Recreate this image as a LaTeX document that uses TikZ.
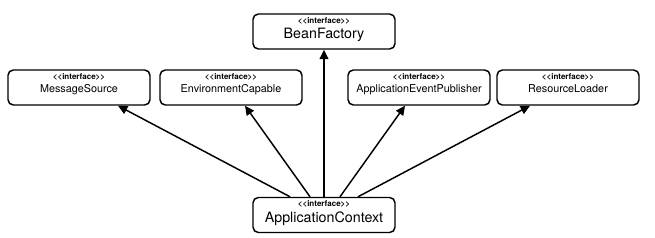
\documentclass[tikz,border=0pt]{standalone}
\usepackage{fontspec}
\setmainfont{TeX Gyre Heros}
\usetikzlibrary{arrows.meta,calc}

\newcommand{\iface}[1]{{\fontsize{6}{7}\selectfont\bfseries {<}{<}interface{>}{>}}\\#1}

\begin{document}
\begin{tikzpicture}[
    x=0.75pt, y=-0.75pt,
    iface/.style={draw, line width=1.1pt, fill=white, rounded corners=4pt, minimum width=106.5pt, minimum height=26.25pt, inner sep=0pt, align=center, font=\fontsize{8.1}{9.5}\selectfont, text depth=7pt},
    bigiface/.style={iface, font=\fontsize{10.7}{11.5}\selectfont, text depth=5pt},
    arrow/.style={-{Triangle[length=7pt,width=6.5pt]}, line width=1.1pt},
]
\useasboundingbox (0,0) rectangle (655,238);
\node[bigiface] (bean) at (324,31.5) {\iface{BeanFactory}};
\node[iface] (msg) at (79,87.5) {\iface{MessageSource}};
\node[iface] (env) at (231,87.5) {\iface{EnvironmentCapable}};
\node[iface] (pub) at (419,87.5) {\iface{ApplicationEventPublisher}};
\node[iface] (res) at (568,87.5) {\iface{ResourceLoader}};
\node[bigiface] (ctx) at (324,215) {\iface{ApplicationContext}};

\draw[arrow] ($(ctx.north)+(-34,0)$) -- ($(msg.south)+(39,0)$);
\draw[arrow] ($(ctx.north)+(-14,0)$) -- ($(env.south)+(14,0)$);
\draw[arrow] (ctx.north) -- (bean.south);
\draw[arrow] ($(ctx.north)+(16,0)$) -- ($(pub.south)+(-14,0)$);
\draw[arrow] ($(ctx.north)+(34,0)$) -- ($(res.south)+(-38,0)$);
\end{tikzpicture}
\end{document}
